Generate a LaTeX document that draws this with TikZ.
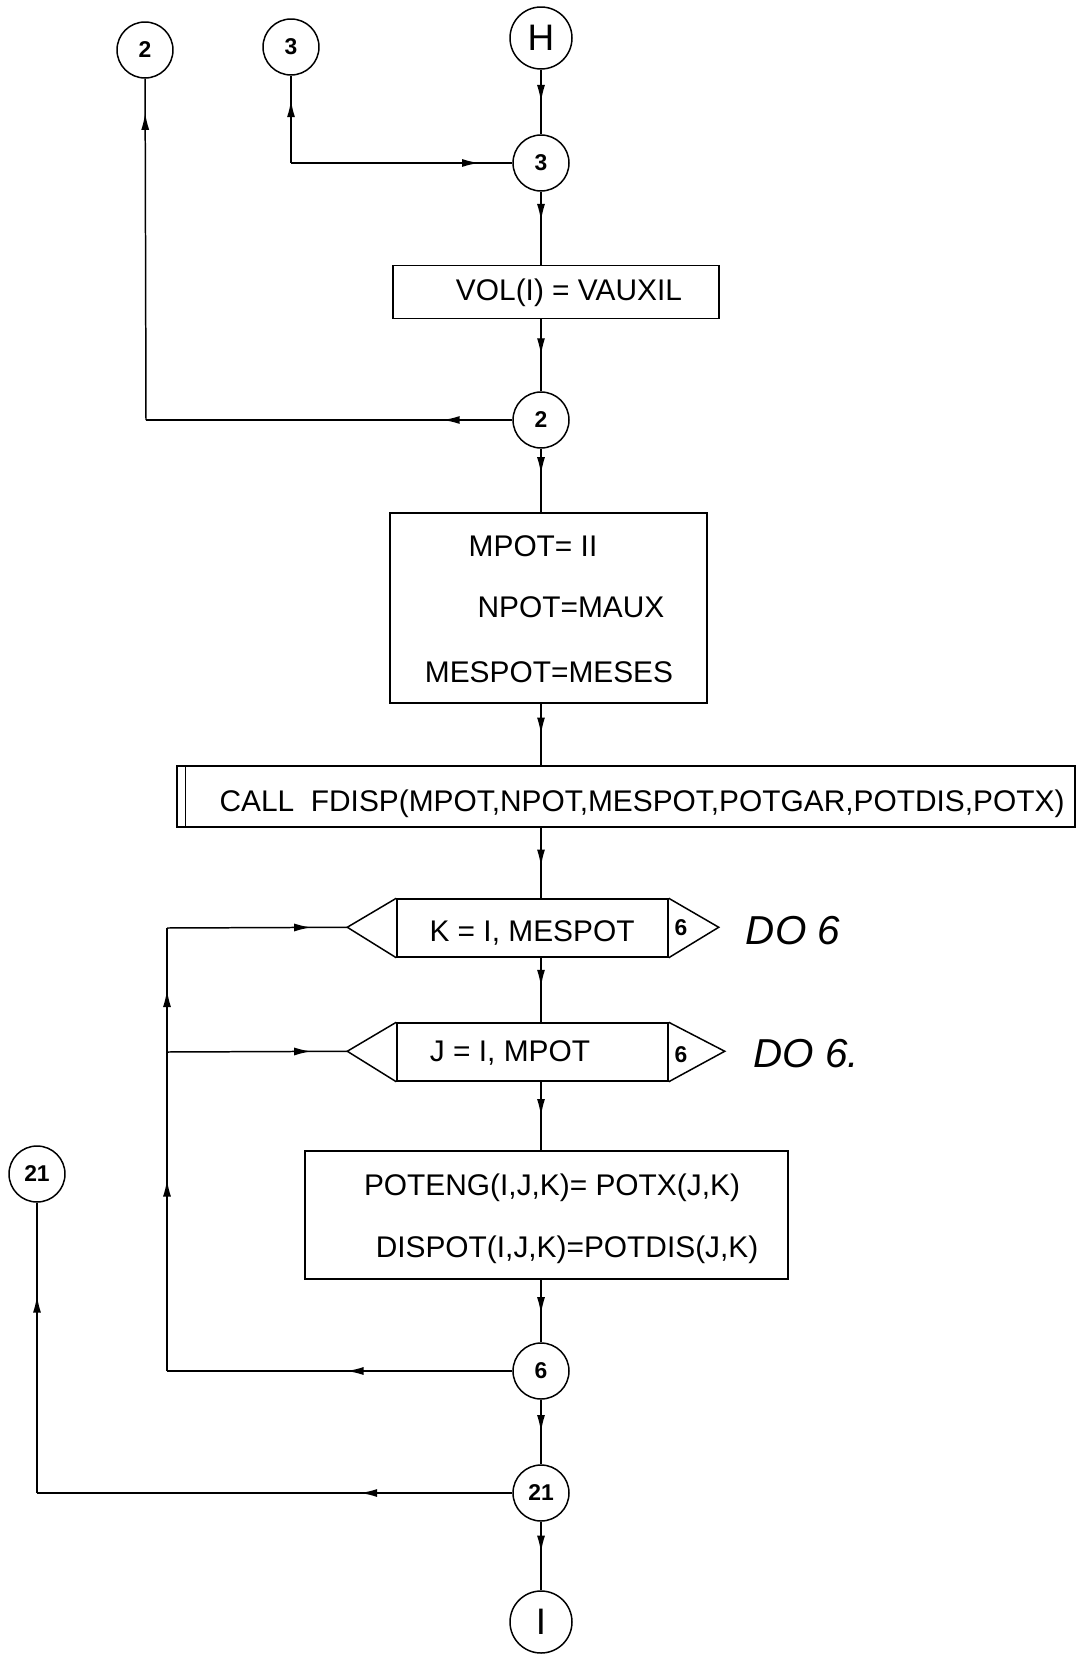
\documentclass[tikz,border=0pt]{standalone}
\usepackage{fontspec}
\setmainfont{Liberation Sans}
\usetikzlibrary{arrows.meta,calc,decorations.markings}
\tikzset{arr/.style={postaction={decorate},
    decoration={markings,mark=at position #1 with {\arrow{Latex[length=3.4mm,width=1.6mm]}}}},
  arr/.default=0.5}

\begin{document}
\begin{tikzpicture}[x=0.02cm,y=-0.02cm,line width=0.85pt,
    every node/.style={font=\fontsize{17}{20}\selectfont}]
      \tikzstyle{con} =[circle,draw,minimum size=1.12cm,inner sep=0pt,
                        font=\fontsize{13}{15}\selectfont\bfseries];
      \tikzstyle{term}=[circle,draw,minimum size=1.24cm,inner sep=0pt,
                        font=\fontsize{21}{24}\selectfont];
      \tikzstyle{box} =[rectangle,draw,inner sep=0pt];
      \tikzstyle{note}=[font=\fontsize{23}{26}\selectfont\itshape];
      \useasboundingbox (0,0) rectangle (1077,1655);
      % connectors and terminals
      \node[term] (H)   at (541,38)   {H};
      \node[con]  (c2t) at (145,50)   {2};
      \node[con]  (c3t) at (291,47)   {3};
      \node[con]  (c3)  at (541,163)  {3};
      \node[con]  (c2)  at (541,420)  {2};
      \node[con]  (c6)  at (541,1371) {6};
      \node[con]  (c21) at (541,1493) {21};
      \node[con]  (c21l) at (37,1174) {21};
      \node[term] (I)   at (541,1622) {I};
      % process boxes
      \node[box,minimum width=6.52cm,minimum height=1.06cm] (vol) at (556,292) {};
      \node (voltx) at (569,293) {VOL(I) = VAUXIL};
      \node[box,minimum width=6.34cm,minimum height=3.8cm] (mpot) at (548.5,608) {};
      \node (mp1) at (533,546) {MPOT= II};
      \node (mp2) at (571,607) {NPOT=MAUX};
      \node (mp3) at (549,672) {MESPOT=MESES};
      \node[box,minimum width=17.96cm,minimum height=1.22cm] (call) at (626,796.5) {};
      \node (calltx) at (642,804) {CALL\ \ FDISP(MPOT,NPOT,MESPOT,POTGAR,POTDIS,POTX)};
      \draw ([xshift=0.18cm]call.north west) -- ([xshift=0.18cm]call.south west);
      \node[box,minimum width=5.42cm,minimum height=1.16cm] (K) at (532.5,928) {};
      \node (Ktx) at (532,933) {K = I, MESPOT};
      \node[box,minimum width=5.42cm,minimum height=1.16cm] (J) at (532.5,1052) {};
      \node (Jtx) at (510,1053) {J = I, MPOT};
      \draw (K.north west) -- ++(-49,29) coordinate (Ktip) -- (K.south west);
      \draw (K.north east) -- ++(50,29) -- (K.south east);
      \draw (J.north west) -- ++(-49,29) coordinate (Jtip) -- (J.south west);
      \draw (J.north east) -- ++(56,29) -- (J.south east);
      \node[font=\fontsize{13}{15}\selectfont\bfseries] (K6) at (681,928) {6};
      \node[font=\fontsize{13}{15}\selectfont\bfseries] (J6) at (681,1055) {6};
      \node[note] (do1) at (793,931) {DO 6};
      \node[note] (do2) at (806,1054) {DO 6.};
      \node[box,minimum width=9.66cm,minimum height=2.56cm] (pot) at (546.5,1215) {};
      \node (pt1) at (552,1188) {POTENG(I,J,K)= POTX(J,K)};
      \node (pt2) at (567,1250) {DISPOT(I,J,K)=POTDIS(J,K)};
      % corner points
      \coordinate (lp3)  at (291,163);
      \coordinate (lp2)  at (146,420);
      \coordinate (lp6)  at (167,1371);
      \coordinate (lpJ)  at (167,1052);
      \coordinate (lpK)  at (167,928);
      \coordinate (lp21) at (37,1493);
      % main flow
      \draw[arr=0.5]  (H) -- (c3);
      \draw[arr=0.4]  (c3) -- (c3 |- vol.north);
      \draw[arr=0.5]  (c3 |- vol.south) -- (c2);
      \draw[arr=0.4]  (c2) -- (c2 |- mpot.north);
      \draw[arr=0.5]  (c2 |- mpot.south) -- (c2 |- call.north);
      \draw[arr=0.55] (c2 |- call.south) -- (c2 |- K.north);
      \draw[arr=0.45] (c2 |- K.south) -- (c2 |- J.north);
      \draw[arr=0.5]  (c2 |- J.south) -- (c2 |- pot.north);
      \draw[arr=0.55] (c2 |- pot.south) -- (c6);
      \draw[arr=0.5]  (c6) -- (c21);
      \draw[arr=0.45] (c21) -- (I);
      % returns
      \draw[arr=0.85] (lp3) -- (c3);
      \draw[arr=0.72] (lp3) -- (c3t);
      \draw[arr=0.19] (c2) -- (lp2);
      \draw[arr=0.9]  (lp2) -- (c2t);
      \draw[arr=0.48] (c6) -- (lp6);
      \draw[arr=0.6]  (lp6) -- (lpJ);
      \draw[arr=0.5]  (lpJ) -- (lpK);
      \draw[arr=0.8]  (lpK) -- (Ktip);
      \draw[arr=0.8]  (lpJ) -- (Jtip);
      \draw[arr=0.32] (c21) -- (lp21);
      \draw[arr=0.68] (lp21) -- (c21l);
    \end{tikzpicture}
\end{document}
